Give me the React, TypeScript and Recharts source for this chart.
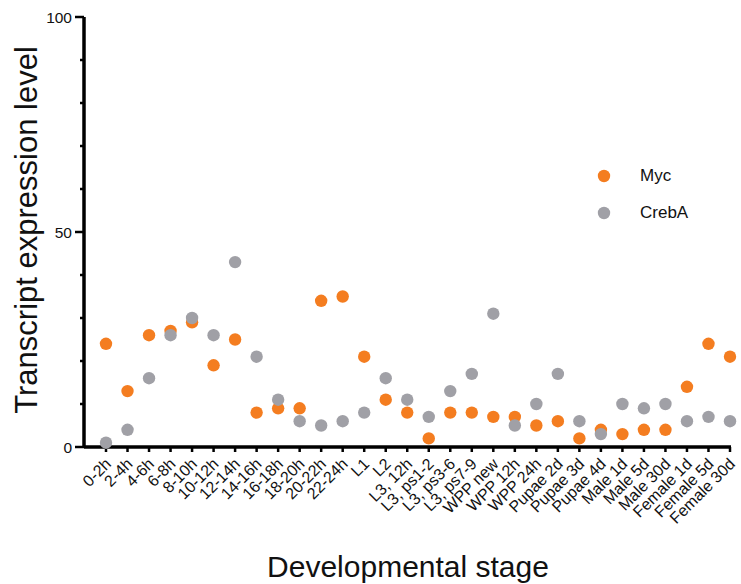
import { ComposedChart, Scatter, XAxis, YAxis } from 'recharts';

const stages = [
  '0-2h', '2-4h', '4-6h', '6-8h', '8-10h', '10-12h', '12-14h', '14-16h', '16-18h', '18-20h',
  '20-22h', '22-24h', 'L1', 'L2', 'L3, 12h', 'L3, ps1-2', 'L3, ps3-6', 'L3, ps7-9', 'WPP new', 'WPP 12h',
  'WPP 24h', 'Pupae 2d', 'Pupae 3d', 'Pupae 4d', 'Male 1d', 'Male 5d', 'Male 30d', 'Female 1d', 'Female 5d', 'Female 30d',
];
const myc = [24, 13, 26, 27, 29, 19, 25, 8, 9, 9, 34, 35, 21, 11, 8, 2, 8, 8, 7, 7, 5, 6, 2, 4, 3, 4, 4, 14, 24, 21];
const crebA = [1, 4, 16, 26, 30, 26, 43, 21, 11, 6, 5, 6, 8, 16, 11, 7, 13, 17, 31, 5, 10, 17, 6, 3, 10, 9, 10, 6, 7, 6];
const yTicks = [0, 10, 20, 30, 40, 50, 60, 70, 80, 90, 100];
const seriesNames = ['Myc', 'CrebA'];

const ORANGE = '#F47D20';
const GRAY = '#A0A0A6';
const FONT = '"Liberation Sans", Arial, sans-serif';

const rows = stages.map((stage, i) => ({ stage, myc: myc[i], crebA: crebA[i] }));

const dot = (color: string) => (p: any) => <circle cx={p.cx} cy={p.cy} r={6.2} fill={color} />;

function YTick({ x, y, payload }: any) {
  const major = payload.value % 50 === 0;
  return (
    <g>
      <line x1={x} x2={x - (major ? 9 : 4)} y1={y} y2={y} stroke="#000" strokeWidth={2.5} />
      {major && (
        <text x={x - 12} y={y} dy={5.5} textAnchor="end" fontSize={15.5} fontFamily={FONT} fill="#111">
          {payload.value}
        </text>
      )}
    </g>
  );
}

function XTick({ x, y, payload }: any) {
  const ax = x + 6;
  const ay = y + 11;
  return (
    <text
      x={ax}
      y={ay}
      textAnchor="end"
      fontSize={16}
      fontFamily={FONT}
      fill="#111"
      transform={`rotate(-45 ${ax} ${ay})`}
    >
      {payload.value}
    </text>
  );
}

// legend drawn on top of the chart so it doesn't steal plot space
function LegendBox() {
  const colors = [ORANGE, GRAY];
  return (
    <div style={{ position: 'absolute', left: 597, top: 157, fontFamily: FONT, fontSize: 17, color: '#111' }}>
      {seriesNames.map((name, i) => (
        <div key={name} style={{ display: 'flex', alignItems: 'center', height: 37 }}>
          <svg width={43} height={14}>
            <circle cx={7} cy={7} r={6.2} fill={colors[i]} />
          </svg>
          <span>{name}</span>
        </div>
      ))}
    </div>
  );
}

export default function App() {
  return (
    <div style={{ position: 'absolute', left: 0, top: 0, width: 741, height: 584, background: '#fff' }}>
      <ComposedChart
        width={741}
        height={584}
        data={rows}
        margin={{ top: 17, right: 10, bottom: 0, left: 0 }}
      >
        <XAxis
          dataKey="stage"
          type="category"
          scale="point"
          interval={0}
          padding={{ left: 22, right: 1 }}
          axisLine={{ stroke: '#000', strokeWidth: 3.5 }}
          tickLine={{ stroke: '#000', strokeWidth: 2.5 }}
          tickSize={5}
          tick={<XTick />}
          height={137}
          label={() => (
            <text x={408} y={577} textAnchor="middle" fontSize={30} fontFamily={FONT} fill="#111">
              Developmental stage
            </text>
          )}
        />
        <YAxis
          type="number"
          domain={[0, 100]}
          ticks={yTicks}
          interval={0}
          width={84}
          axisLine={{ stroke: '#000', strokeWidth: 3.5 }}
          tickLine={false}
          tickSize={0}
          tickMargin={0}
          tick={<YTick />}
          label={() => (
            <text
              x={37}
              y={230}
              textAnchor="middle"
              fontSize={31}
              fontFamily={FONT}
              fill="#111"
              transform="rotate(-90 37 230)"
            >
              Transcript expression level
            </text>
          )}
        />
        <Scatter dataKey="myc" name={seriesNames[0]} fill={ORANGE} shape={dot(ORANGE)} isAnimationActive={false} />
        <Scatter dataKey="crebA" name={seriesNames[1]} fill={GRAY} shape={dot(GRAY)} isAnimationActive={false} />
      </ComposedChart>
      <LegendBox />
    </div>
  );
}
